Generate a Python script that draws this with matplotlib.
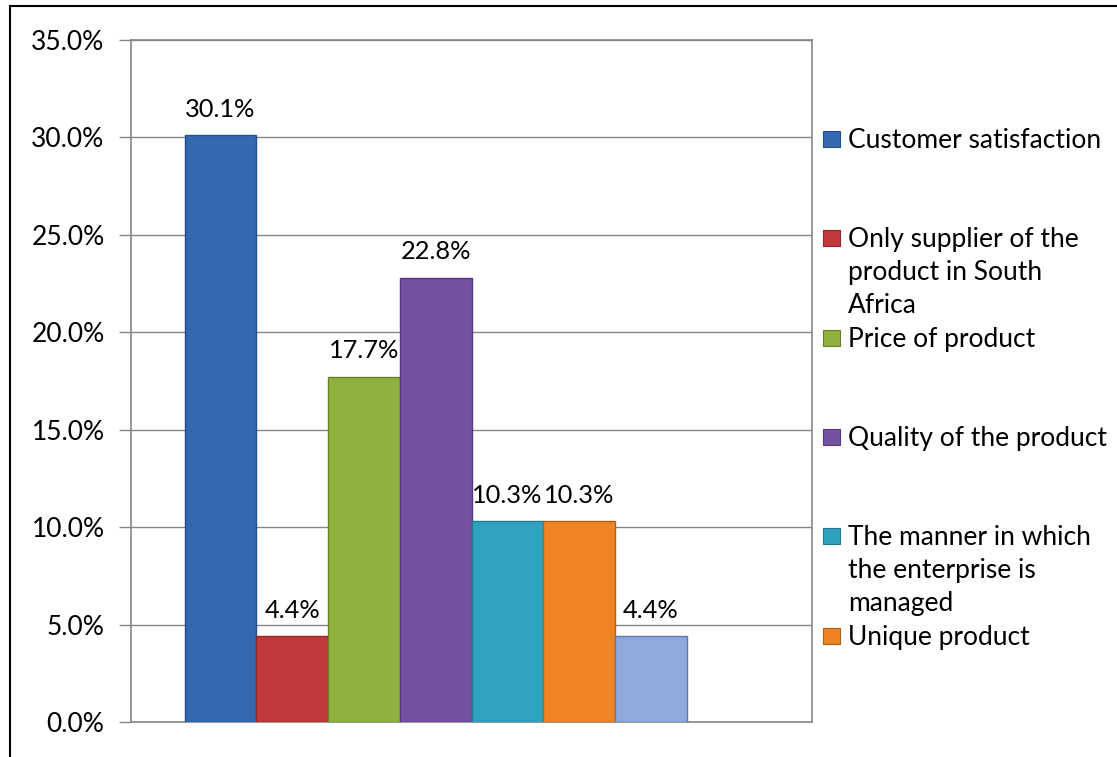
import matplotlib.pyplot as plt
from matplotlib.patches import Rectangle
from matplotlib.ticker import FuncFormatter

# data
labels = ["Customer satisfaction",
          "Only supplier of the\nproduct in South\nAfrica",
          "Price of product",
          "Quality of the product",
          "The manner in which\nthe enterprise is\nmanaged",
          "Unique product"]
values = [30.1, 4.4, 17.7, 22.8, 10.3, 10.3, 4.4]
colors = ["#3469b0", "#c0393b", "#8fb13d", "#7452a0", "#2ea2bf", "#ee8424", "#8eaadb"]
edges = ["#244f88", "#8f2628", "#66832a", "#52387a", "#1f7a91", "#b45f16", "#5f7bab"]
n_slots = 8  # chart has room for an eighth (empty) series

W, H = 1117, 757
FS = 19
plt.rcParams['font.family'] = ['Lato', 'DejaVu Sans']
fig = plt.figure(figsize=(W / 100, H / 100), dpi=100)

# outer chart frame (runs off the right and bottom of the picture)
fig.patches.append(Rectangle((10 / W, -0.1), 1.2, 1 - 6 / H + 0.1,
                             transform=fig.transFigure, fill=False,
                             edgecolor="black", linewidth=1.5))

ax = fig.add_axes([131 / W, 1 - 722 / H, (812 - 131) / W, (722 - 40) / H])

for i, v in enumerate(values):
    ax.bar(i, v, width=1.0, color=colors[i], edgecolor=edges[i], linewidth=1.0, zorder=3)
    ax.text(i, v + 0.75, f"{v:.1f}%", ha="center", va="bottom", fontsize=18.3, zorder=4)

gap = 0.746
ax.set_xlim(-0.5 - gap, n_slots - 0.5 + gap)
ax.set_ylim(0, 35)
ax.set_yticks(range(0, 36, 5))
ax.yaxis.set_major_formatter(FuncFormatter(lambda y, _: f"{y:.1f}%"))
ax.set_xticks([])
ax.tick_params(axis="y", length=9, width=1, color="#868686", labelsize=FS, pad=10)
ax.grid(axis="y", color="#868686", linewidth=1, zorder=0)
for s in ax.spines.values():
    s.set_color("#868686")
    s.set_linewidth(1.2)

# legend drawn entry by entry, Excel style (equal slots, first line aligned)
for i, lab in enumerate(labels):
    y = 139 + i * 99.3
    fig.patches.append(Rectangle((823 / W, 1 - (y + 8) / H), 17 / W, 16 / H,
                                 transform=fig.transFigure, facecolor=colors[i],
                                 edgecolor=edges[i], linewidth=0.8))
    fig.text(848 / W, 1 - (y - 11) / H, lab, ha="left", va="top",
             fontsize=FS, linespacing=1.39)

fig.savefig("out.png", dpi=100)
